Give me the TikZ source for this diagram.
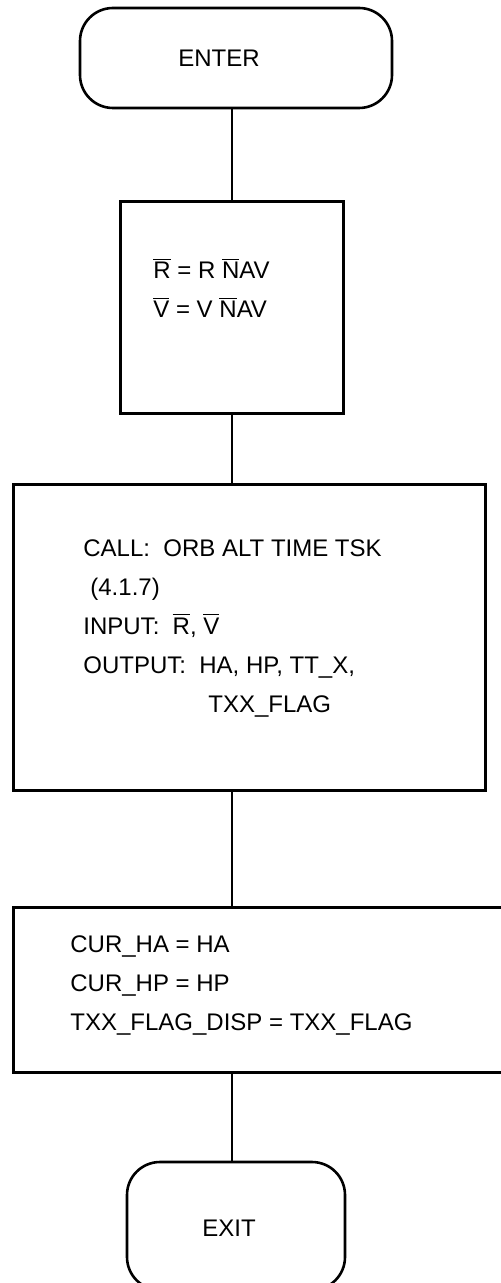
\documentclass[tikz,border=0pt]{standalone}
\usepackage{amsmath}
\usepackage{fontspec}
\setmainfont{Liberation Sans}
\usetikzlibrary{positioning}
\newcommand{\ovr}[1]{$\overline{\mbox{#1}}$}

\begin{document}
\begin{tikzpicture}[x=0.5pt,y=-0.5pt,font=\fontsize{12}{19.5}\selectfont,
  term/.style={draw,line width=1.3pt,rounded corners=16.5pt,inner sep=0pt},
  proc/.style={draw,line width=1.5pt,inner sep=0pt},
  txt/.style={anchor=base west,align=left,inner sep=0pt},
  link/.style={line width=1pt}]
\useasboundingbox (0,0) rectangle (501,1283);
\clip (0,0) rectangle (501,1283);
% boxes
\node[term,minimum width=156pt,minimum height=50pt] (enter) at (236,58) {};
\node[proc,minimum width=111.5pt,minimum height=105.5pt] (nav) at (231.5,307.5) {};
\node[proc,minimum width=236pt,minimum height=153pt] (call) at (249,637) {};
\node[proc,minimum width=253.5pt,minimum height=82.5pt] (cur) at (266.5,989.5) {};
\node[term,minimum width=109pt,minimum height=64pt] (exit) at (236,1226) {};
% texts (base = last line)
\node[txt] (entertxt) at (178,67) {ENTER};
\node[txt] (navtxt) at (153,318) {\ovr{R} = R \ovr{N}AV\\ \ovr{V} = V \ovr{N}AV};
\node[txt] (calltxt) at (83,712) {CALL:~ ORB ALT TIME TSK\\
  \hspace*{3.5pt}(4.1.7)\\
  INPUT:~ \ovr{R}, \ovr{V}\\
  OUTPUT:~ HA, HP, TT\_X,\\
  \hspace*{62.5pt}TXX\_FLAG};
\node[txt] (curtxt) at (70,1030) {CUR\_HA = HA\\ CUR\_HP = HP\\ TXX\_FLAG\_DISP = TXX\_FLAG};
\node[txt] (exittxt) at (202,1236) {EXIT};
% connectors
\draw[link] (enter.south -| nav.north) -- (nav.north);
\draw[link] (nav.south) -- (nav.south |- call.north);
\draw[link] (call.south -| nav.south) -- (nav.south |- cur.north);
\draw[link] (cur.south -| nav.south) -- (nav.south |- exit.north);
\end{tikzpicture}
\end{document}
